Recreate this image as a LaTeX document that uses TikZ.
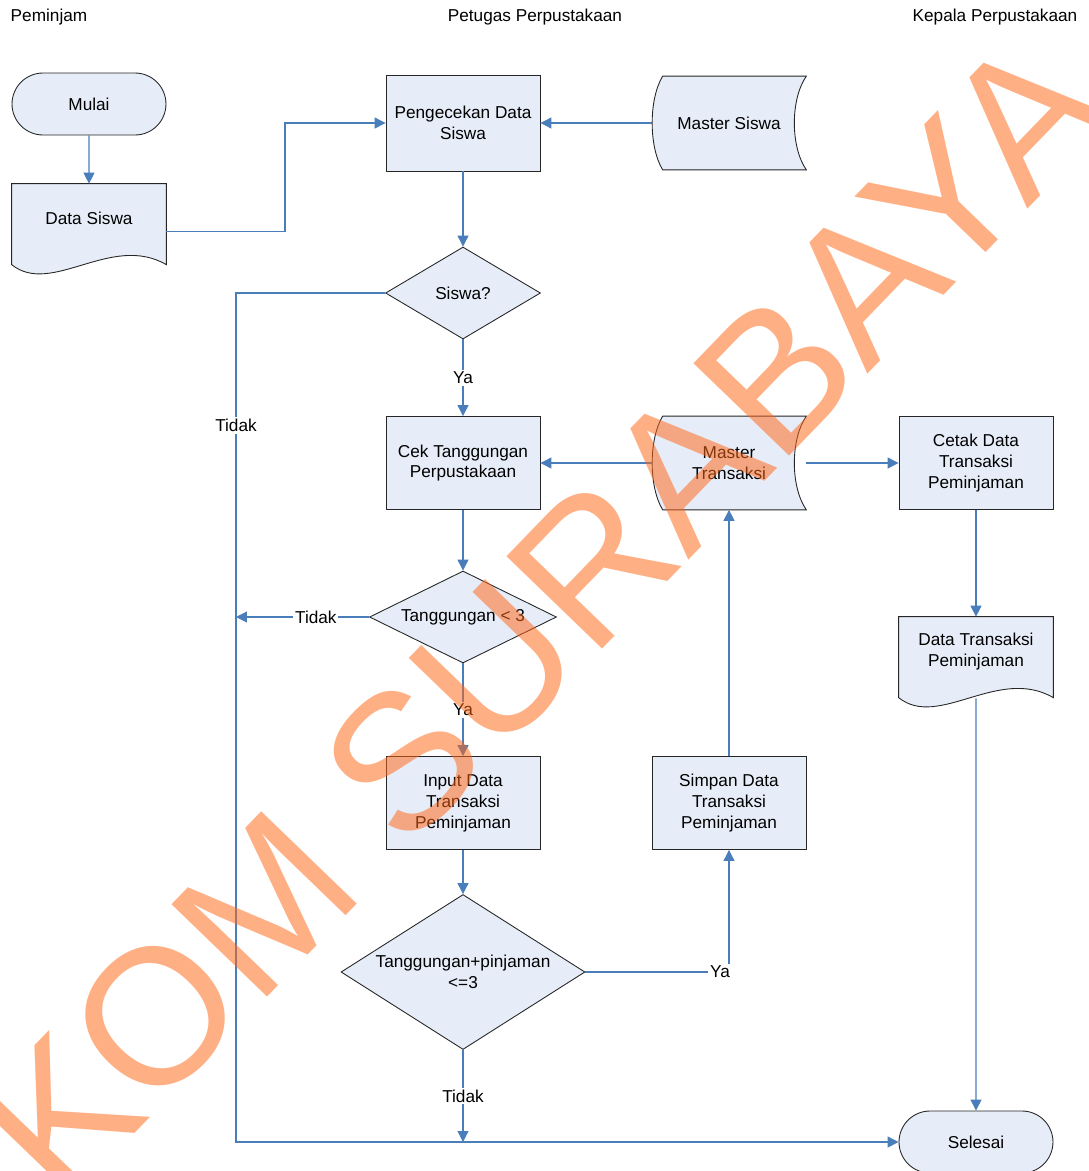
\documentclass[tikz,border=0pt]{standalone}
\usepackage{fontspec}
\setmainfont{Liberation Sans}
\usetikzlibrary{positioning,calc,arrows.meta,shapes.geometric,shapes.misc}

\definecolor{flowblue}{RGB}{74,126,187}
\definecolor{boxfill}{RGB}{231,237,248}
\definecolor{wmorange}{RGB}{255,102,20}

\pgfdeclarelayer{background}
\pgfsetlayers{background,main}

\tikzset{
  base/.style={font=\fontsize{9.8}{11.9}\selectfont, align=center},
  proc/.style={base, draw=black!85, fill=boxfill, line width=0.5pt, minimum width=3.08cm, minimum height=1.86cm, inner sep=0pt},
  term/.style={base, rounded rectangle, draw=black!85, fill=boxfill, line width=0.5pt, minimum width=3.08cm, minimum height=1.24cm, inner sep=0pt},
  decision/.style={base, diamond, draw=black!85, fill=boxfill, line width=0.5pt, inner sep=0pt},
  docnode/.style={base, minimum width=3.08cm, minimum height=1.38cm, inner sep=0pt},
  storenode/.style={base, minimum width=3.08cm, minimum height=1.86cm, inner sep=0pt},
  outline/.style={draw=black!85, fill=boxfill, line width=0.5pt},
  flow/.style={draw=flowblue, line width=0.6pt, -{Triangle[length=0.22cm,width=0.22cm]}},
  lbl/.style={base, fill=white, inner sep=1pt},
  watermark/.style={font=\fontsize{110}{110}\selectfont, text=wmorange, text opacity=0.52, rotate=46, inner sep=0pt}
}

% outline of a document shape round a node
\newcommand{\docoutline}[1]{%
  \path[outline] (#1.north west) -- (#1.north east) -- ++(0,81)
    .. controls +(-55,-32) and +(40,32) .. ($(#1.north west)+(0,81)$) -- cycle;}
% outline of a stored data shape round a node
\newcommand{\storeoutline}[1]{%
  \path[outline] ($(#1.north west)+(11,0)$) -- (#1.north east)
    .. controls +(-16,23) and +(-16,-23) .. (#1.south east)
    -- ($(#1.south west)+(11,0)$)
    .. controls +(-14,-23) and +(-14,23) .. ($(#1.north west)+(11,0)$) -- cycle;}

\begin{document}
\begin{tikzpicture}[x=0.02cm, y=-0.02cm]
    \useasboundingbox (0,0) rectangle (1089,1171);
    \clip (0,0) rectangle (1089,1171);

    % Lane titles
    \foreach \n/\x/\t in {hpem/49/Peminjam, hpet/535/Petugas Perpustakaan, hkep/995/Kepala Perpustakaan} {
      \node[base] (\n) at (\x,17) {\t};
    }

    % Start and end
    \node[term] (mulai) at (89,104) {Mulai};
    \node[term] (selesai) at (976,1142) {Selesai};

    % Processes
    \node[proc, minimum height=1.92cm] (cekdata) at (463,123) {Pengecekan Data\\Siswa};
    \foreach \n/\x/\y/\t in {cektg/463/463/{Cek Tanggungan\\Perpustakaan}, cetak/976/463/{Cetak Data\\Transaksi\\Peminjaman}, input/463/803/{Input Data\\Transaksi\\Peminjaman}, simpan/729/803/{Simpan Data\\Transaksi\\Peminjaman}} {
      \node[proc] (\n) at (\x,\y) {\t};
    }

    % Decisions
    \node[decision, minimum width=3.1cm, minimum height=1.84cm, aspect=1.68] (siswaq) at (463,293) {Siswa?};
    \node[decision, minimum width=3.74cm, minimum height=1.84cm, aspect=2.03] (tg3) at (463,617) {Tanggungan < 3};
    \node[decision, minimum width=4.88cm, minimum height=3.1cm, aspect=1.574] (tgpj) at (463,972) {Tanggungan+pinjaman\\<=3};

    % Documents and stored data
    \node[docnode] (dsiswa) at (89,218.5) {Data Siswa};
    \node[docnode] (dtrans) at (976,651.5) {Data Transaksi\\Peminjaman};
    \node[storenode] (msiswa) at (729,123) {Master Siswa};
    \node[storenode] (mtrans) at (729,463) {Master\\Transaksi};
    \begin{pgfonlayer}{background}
      \docoutline{dsiswa}
      \docoutline{dtrans}
      \storeoutline{msiswa}
      \storeoutline{mtrans}
    \end{pgfonlayer}

    % Bends of the long lines
    \coordinate (jog) at (285,123);
    \coordinate (ltop) at (236,293);
    \coordinate (lbot) at (236,1142);

    % Connectors
    \draw[flow] (mulai) -- (dsiswa);
    \draw[flow] ($(dsiswa.east)+(0,13)$) -| (jog) -- (cekdata.west);
    \draw[flow] (msiswa.west) -- (cekdata.east);
    \draw[flow] (cekdata) -- (siswaq);
    \draw[flow] (siswaq) -- node[lbl] {Ya} (cektg);
    \draw[flow] (siswaq.west) -- (ltop) -- node[lbl, pos=0.156] {Tidak} (lbot) -- (selesai.west);
    \draw[flow] (mtrans.west) -- (cektg.east);
    \draw[flow] (mtrans.east) -- (cetak.west);
    \draw[flow] (cektg) -- (tg3);
    \draw[flow] (tg3.west) -- node[lbl, pos=0.4] {Tidak} (tg3.west -| ltop);
    \draw[flow] (tg3) -- node[lbl] {Ya} (input);
    \draw[flow] (input) -- (tgpj);
    \draw[flow] (tgpj.east) -| node[lbl, pos=0.5, xshift=-0.18cm] {Ya} (simpan.south);
    \draw[flow] (simpan) -- (mtrans);
    \draw[flow] (tgpj) -- node[lbl] {Tidak} (tgpj |- lbot);
    \draw[flow] (cetak) -- (dtrans);
    \draw[flow] ($(dtrans.south)+(0,12)$) -- (selesai);

    % Watermark
    \node[watermark] (wmark) at (437,725) {STIKOM SURABAYA};
\end{tikzpicture}
\end{document}
